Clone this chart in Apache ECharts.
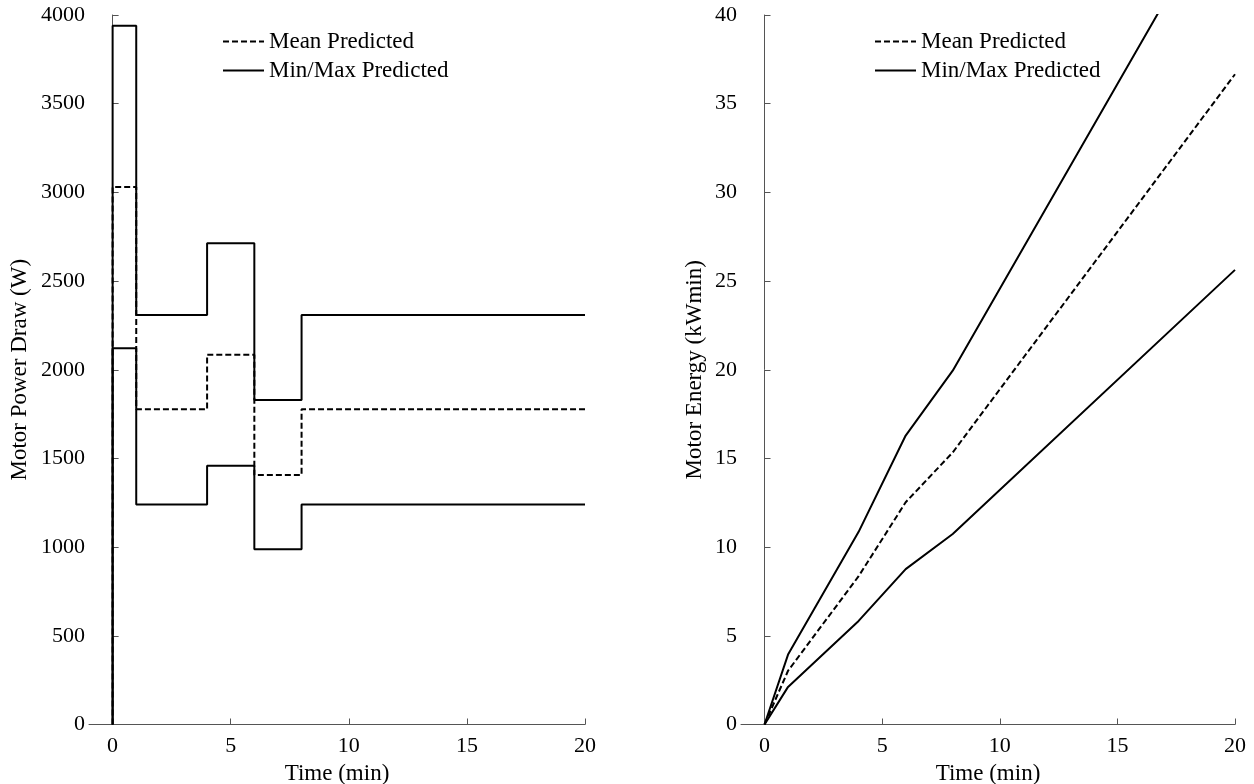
<!DOCTYPE html>
<html>
<head>
<meta charset="utf-8">
<script src="https://cdn.jsdelivr.net/npm/echarts@6/dist/echarts.min.js"></script>
<style>
html,body{margin:0;padding:0;background:#fff;}
#chart{width:1254px;height:784px;}
</style>
</head>
<body>
<div id="chart"></div>
<script>
// ---- data ----
const stepTimes = [0, 1, 4, 6, 8, 20];            // min (step boundaries)
const meanPower = [0, 3030, 1777, 2085, 1406, 1777]; // W (value after each boundary, step 'start')
const maxPower  = [0, 3940, 2308, 2713, 1829, 2308];
const minPower  = [0, 2121, 1241, 1459, 988, 1241];

const energyTimes = [0, 1, 4, 6, 8, 20];           // min
const meanEnergy = [0, 3.03, 8.36, 12.53, 15.34, 36.66]; // kWmin
const maxEnergy  = [0, 3.94, 10.86, 16.29, 19.95, 47.65];
const minEnergy  = [0, 2.12, 5.84, 8.76, 10.74, 25.63];

const xTicks = [0, 5, 10, 15, 20];
const legendNames = ['Mean Predicted', 'Min/Max Predicted'];

const pair = (xs, ys) => xs.map((x, i) => [x, ys[i]]);

const FONT = 'Liberation Serif, Times New Roman, serif';
const FS = 22;
const NFS = 23;
const axisColor = '#555';

function xAxisCfg(gridIndex) {
  return {
    type: 'value', gridIndex, min: -1, max: 20,
    name: 'Time (min)', nameLocation: 'middle', nameGap: 19,
    nameTextStyle: {fontFamily: FONT, fontSize: NFS, color: '#000'},
    axisLine: {show: true, lineStyle: {color: axisColor, width: 1}},
    axisTick: {show: true, inside: true, length: 6, customValues: xTicks, lineStyle: {color: axisColor}},
    axisLabel: {customValues: xTicks, fontFamily: FONT, fontSize: FS, color: '#000', margin: 11,
                formatter: v => String(v)},
    splitLine: {show: false}
  };
}
function yAxisCfg(gridIndex, max, interval, name, nameGap) {
  return {
    type: 'value', gridIndex, min: 0, max, interval,
    name, nameLocation: 'middle', nameGap,
    nameTextStyle: {fontFamily: FONT, fontSize: NFS, color: '#000'},
    axisLine: {show: true, lineStyle: {color: axisColor, width: 1}},
    axisTick: {show: true, inside: true, length: 6, lineStyle: {color: axisColor}},
    axisLabel: {fontFamily: FONT, fontSize: FS, color: '#000', margin: 4, formatter: v => String(v)},
    splitLine: {show: false}
  };
}
const dashStyle = {color: '#000', width: 2, type: [6, 3]};
const solidStyle = {color: '#000', width: 2, type: 'solid'};

function line(name, data, xi, yi, style, step) {
  return {
    type: 'line', name, data, xAxisIndex: xi, yAxisIndex: yi,
    step: step || false, symbol: 'none', showSymbol: false, clip: true,
    lineStyle: style, itemStyle: {color: '#000', opacity: 0}, emphasis: {disabled: true},
    animation: false
  };
}

const legendCfg = (left) => ({
  data: legendNames, orient: 'vertical', left, top: 30, padding: 0,
  itemWidth: 41, itemHeight: 12, itemGap: 6,
  itemStyle: {opacity: 0},
  textStyle: {fontFamily: FONT, fontSize: NFS, color: '#000'},
  selectedMode: false
});

const chart = echarts.init(document.getElementById('chart'), null, {renderer: 'canvas'});
chart.setOption({
  backgroundColor: '#fff',
  animation: false,
  grid: [
    {left: 89, top: 15, width: 496, height: 709.5, outerBoundsMode: 'none', containLabel: false},
    {left: 741, top: 15, width: 494, height: 709.5, outerBoundsMode: 'none', containLabel: false}
  ],
  legend: [legendCfg(222), legendCfg(874)],
  xAxis: [xAxisCfg(0), xAxisCfg(1)],
  yAxis: [
    yAxisCfg(0, 4000, 500, 'Motor Power Draw (W)', 58),
    yAxisCfg(1, 40, 5, 'Motor Energy (kWmin)', 35)
  ],
  series: [
    line('Mean Predicted', pair(stepTimes, meanPower), 0, 0, dashStyle, 'start'),
    line('Min/Max Predicted', pair(stepTimes, maxPower), 0, 0, solidStyle, 'start'),
    line('Min/Max Predicted', pair(stepTimes, minPower), 0, 0, solidStyle, 'start'),
    line('Mean Predicted', pair(energyTimes, meanEnergy), 1, 1, dashStyle),
    line('Min/Max Predicted', pair(energyTimes, maxEnergy), 1, 1, solidStyle),
    line('Min/Max Predicted', pair(energyTimes, minEnergy), 1, 1, solidStyle)
  ]
});
</script>
</body>
</html>
